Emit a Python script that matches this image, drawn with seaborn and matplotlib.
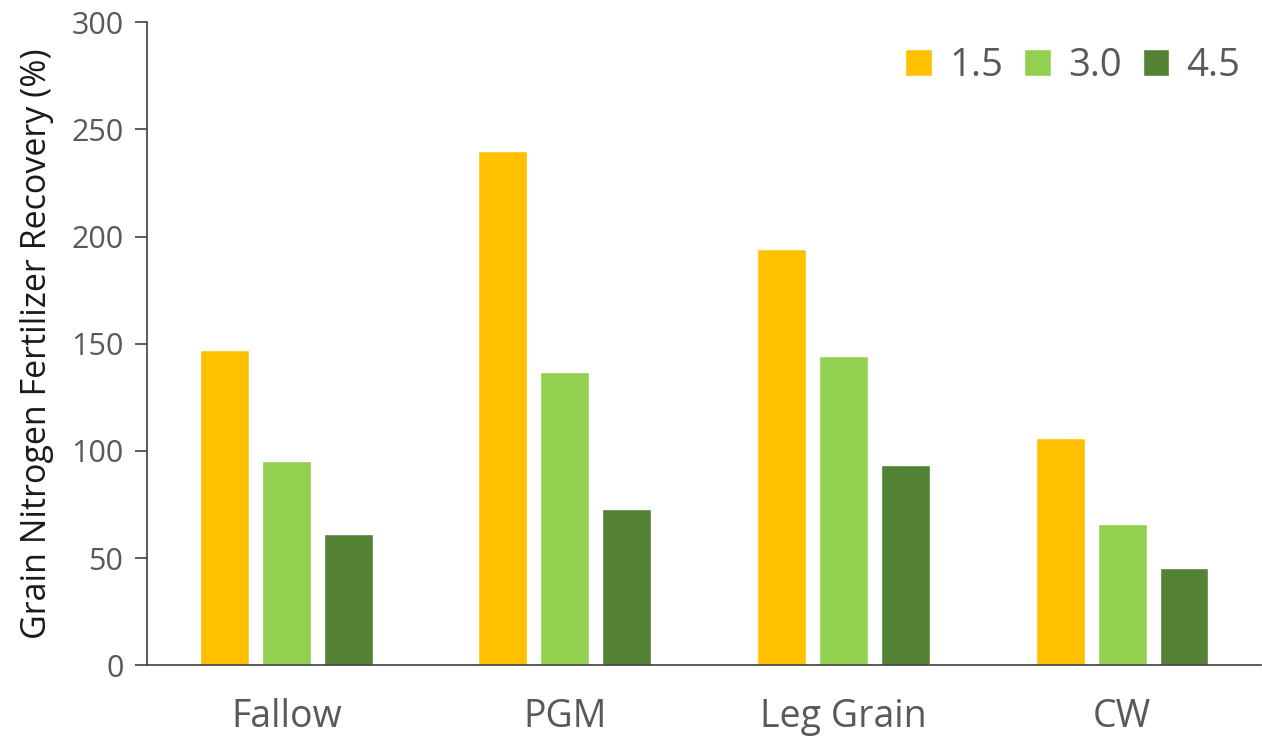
import pandas as pd
import matplotlib
matplotlib.use("Agg")
import matplotlib.pyplot as plt
import seaborn as sns

# data
categories = ["Fallow", "PGM", "Leg Grain", "CW"]
rates = ["1.5", "3.0", "4.5"]
rate_15 = [147, 240, 194, 106]
rate_30 = [95.5, 136.6, 144.5, 66]
rate_45 = [61, 72.7, 93.5, 45.5]
colors = ["#FFC000", "#92D050", "#548235"]

rows = []
for rate, vals in zip(rates, [rate_15, rate_30, rate_45]):
    for cat, v in zip(categories, vals):
        rows.append({"Cover": cat, "Rate": rate, "Recovery": v})
df = pd.DataFrame(rows)

sns.set_style("white")
plt.rcParams["font.family"] = ["Open Sans", "DejaVu Sans"]

fig = plt.figure(figsize=(12.62, 7.44), dpi=100)
ax = fig.add_axes([0.1165, 0.106, 0.883, 0.864])

sns.barplot(data=df, x="Cover", y="Recovery", hue="Rate", order=categories,
            hue_order=rates, palette=colors, width=0.667, gap=0.21,
            saturation=1, ax=ax)

ax.set_xlim(-0.5, 3.5)
ax.set_ylim(0, 300)
ax.set_yticks(range(0, 301, 50))
ax.set_xlabel("")
ax.set_ylabel("Grain Nitrogen Fertilizer Recovery (%)", fontsize=24.5, color="#1a1a1a", labelpad=12)

for s in ["top", "right"]:
    ax.spines[s].set_visible(False)
for s in ["left", "bottom"]:
    ax.spines[s].set_color("#404040")
    ax.spines[s].set_linewidth(1.2)

ax.tick_params(axis="y", direction="out", length=9, width=1.2, color="#404040",
               labelsize=22, labelcolor="#595959", left=True, pad=8)
ax.tick_params(axis="x", length=0, labelsize=27, labelcolor="#595959", pad=24)

leg = ax.legend(loc="upper right", ncol=3, frameon=False, fontsize=27.5,
                handlelength=0.7, handleheight=0.7, handletextpad=0.45,
                columnspacing=0.55, bbox_to_anchor=(1.012, 1.015))
for t in leg.get_texts():
    t.set_color("#595959")

fig.savefig("out.png", dpi=100)
